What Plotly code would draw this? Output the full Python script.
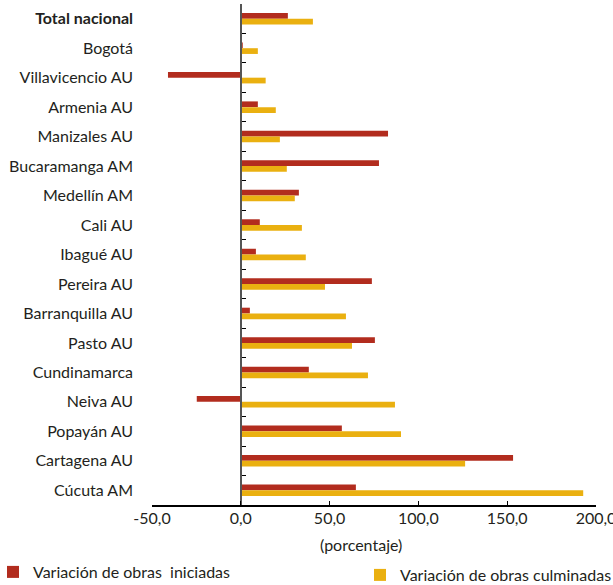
import plotly.graph_objects as go

categories = ["Total nacional", "Bogotá", "Villavicencio AU", "Armenia AU", "Manizales AU",
              "Bucaramanga AM", "Medellín AM", "Cali AU", "Ibagué AU", "Pereira AU",
              "Barranquilla AU", "Pasto AU", "Cundinamarca", "Neiva AU", "Popayán AU",
              "Cartagena AU", "Cúcuta AM"]
category_labels = ["<b>Total nacional</b>"] + categories[1:]

iniciadas = [26.5, 1.1, -41.0, 9.6, 82.9, 77.8, 32.7, 10.7, 8.5, 73.8,
             5.1, 75.5, 38.3, -24.8, 56.9, 153.3, 64.8]
culminadas = [40.6, 9.6, 14.0, 19.7, 22.0, 25.9, 30.4, 34.4, 36.6, 47.4,
              59.2, 62.6, 71.6, 86.8, 90.2, 126.3, 192.8]

x_tickvals = [-50, 0, 50, 100, 150, 200]
x_ticktext = ["-50,0", "0,0", "50,0", "100,0", "150,0", "200,0"]

name_ini = "Variación de obras \u00a0iniciadas"
name_cul = "Variación de obras culminadas"
x_title = "(porcentaje)"

RED = "#b22c1e"
YEL = "#eab010"
FONT = "Lato"
FS = 16
TXT = "#231f20"

W, H = 613, 585
L, R, T, B = 152, 17, 4, 80
PH = H - T - B

fig = go.Figure()
fig.add_trace(go.Bar(y=categories, x=iniciadas, orientation="h", name=name_ini,
                     marker=dict(color=RED, line=dict(width=0)), legend="legend"))
fig.add_trace(go.Bar(y=categories, x=culminadas, orientation="h", name=name_cul,
                     marker=dict(color=YEL, line=dict(width=0)), legend="legend2"))
# invisible trace so the zero-axis (y2) is drawn
fig.add_trace(go.Scatter(x=[None], y=[None], yaxis="y2", showlegend=False, hoverinfo="skip"))

n = len(categories)
xmin, xmax = -50, 200
zero_pos = (0 - xmin) / (xmax - xmin)

fig.update_layout(
    width=W, height=H,
    margin=dict(l=L, r=R, t=T, b=B, autoexpand=False),
    paper_bgcolor="white", plot_bgcolor="white",
    barmode="group", bargap=0.61, bargroupgap=0,
    font=dict(family=FONT, size=FS, color=TXT),
    xaxis=dict(range=[xmin, xmax], tickvals=x_tickvals, ticktext=x_ticktext,
               showline=True, linecolor="#000", linewidth=1.5,
               ticks="inside", ticklen=4, tickcolor="#000", tickwidth=1,
               showgrid=False, zeroline=False, fixedrange=True,
               ticklabeloverflow="allow", ticklabelstandoff=-2,
               tickfont=dict(family=FONT, size=FS, color=TXT)),
    yaxis=dict(type="category", categoryorder="array", categoryarray=categories,
               tickvals=categories, ticktext=category_labels,
               range=[n - 0.5, -0.5], showline=False, ticks="",
               showgrid=False, zeroline=False, ticklabelstandoff=18,
               tickfont=dict(family=FONT, size=FS, color=TXT)),
    yaxis2=dict(overlaying="y", anchor="free", position=zero_pos,
                range=[n - 0.5, -0.5],
                tickvals=[i - 0.5 for i in range(n + 1)],
                showticklabels=False, ticks="inside", ticklen=4, tickcolor="#000",
                showline=True, linecolor="#555", linewidth=2,
                showgrid=False, zeroline=False),
    legend=dict(xref="container", yref="container", x=0, y=1 - 572 / H,
                xanchor="left", yanchor="middle", bgcolor="rgba(0,0,0,0)",
                indentation=-7,
                font=dict(family=FONT, size=FS, color=TXT)),
    legend2=dict(xref="container", yref="container", x=360 / W, y=1 - 575 / H,
                 xanchor="left", yanchor="middle", bgcolor="rgba(0,0,0,0)",
                 font=dict(family=FONT, size=FS, color=TXT)),
    annotations=[dict(text=x_title, xref="paper", yref="paper",
                      x=(361 - L) / (W - L - R), y=(H - B - 544) / PH,
                      xanchor="center", yanchor="middle", showarrow=False,
                      font=dict(family=FONT, size=FS, color=TXT))],
)

fig.write_html("out.html", config={"displayModeBar": False},
               post_script="document.body.style.margin='0';document.body.style.overflow='hidden';")
